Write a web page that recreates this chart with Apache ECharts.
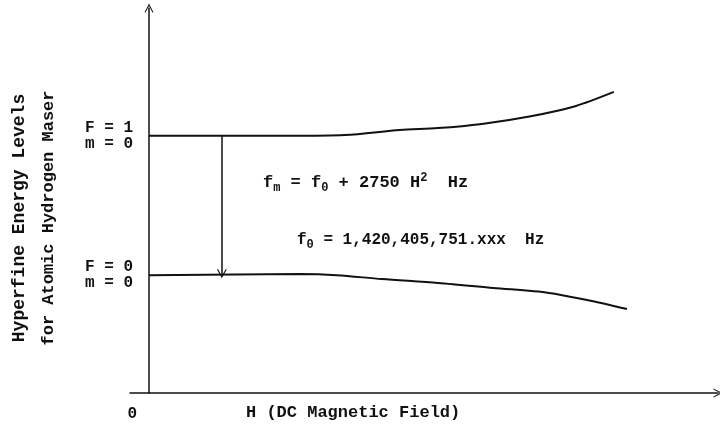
<!DOCTYPE html>
<html>
<head>
<meta charset="utf-8">
<script src="https://cdn.jsdelivr.net/npm/echarts@6/dist/echarts.min.js"></script>
<style>
html, body { margin: 0; padding: 0; background: #fff; }
#main { width: 720px; height: 432px; }
</style>
</head>
<body>
<div id="main"></div>
<script>
// values (arbitrary units: H along x, energy along y)
var upperH = [0, 1.28, 2.48, 3.44, 4.41, 5.08, 5.85, 6.71, 7.49, 8.17];
var upperE = [6.68, 6.68, 6.68, 6.70, 6.83, 6.88, 6.99, 7.19, 7.45, 7.82];
var lowerH = [0, 2.65, 3.30, 4.09, 5.08, 6.05, 7.03, 7.68, 8.40];
var lowerE = [3.06, 3.09, 3.06, 2.96, 2.86, 2.73, 2.60, 2.42, 2.18];
var transition = [[1.28, 6.68], [1.28, 3.10]];
var levelLabels = ['F = 1\nm = 0', 'F = 0\nm = 0'];

var FONT = 'Liberation Mono';
var INK = '#111';
// open chevron, pointing up
var chevron = 'path://M0,10 L5,0 L10,10 L8.8,10 L5,2.6 L1.2,10 Z';

function pairs(xs, ys) {
    return xs.map(function(x, i) { return [x, ys[i]]; });
}

var chart = echarts.init(document.getElementById('main'));

var option = {
    backgroundColor: '#fff',
    animation: false,
    grid: { left: 130, right: 2, top: 8, bottom: 39 },
    xAxis: {
        type: 'value',
        min: -0.334,
        max: 10,
        splitLine: { show: false },
        axisTick: { show: false },
        axisLine: {
            show: true,
            symbol: ['none', chevron],
            symbolSize: [11, 9],
            lineStyle: { color: INK, width: 1.5 }
        },
        axisLabel: {
            customValues: [0],
            formatter: function() { return '0'; },
            align: 'right',
            padding: [0, 12, 0, 0],
            margin: 13,
            color: INK,
            fontFamily: FONT,
            fontWeight: 'bold',
            fontSize: 16
        }
    },
    yAxis: {
        type: 'value',
        min: 0,
        max: 10,
        splitLine: { show: false },
        axisTick: { show: false },
        axisLine: {
            show: true,
            onZero: true,
            symbol: ['none', chevron],
            symbolSize: [11, 9],
            lineStyle: { color: INK, width: 1.5 }
        },
        axisLabel: {
            customValues: [upperE[0], lowerE[0]],
            formatter: function(v) { return v === upperE[0] ? levelLabels[0] : levelLabels[1]; },
            margin: -3,
            lineHeight: 16,
            padding: [0, 0, 4, 0],
            color: INK,
            fontFamily: FONT,
            fontWeight: 'bold',
            fontSize: 16
        }
    },
    series: [
        {
            name: 'upper',
            type: 'line',
            data: pairs(upperH, upperE),
            symbol: 'none',
            smooth: 0.3,
            lineStyle: { color: INK, width: 2 },
            markLine: {
                silent: true,
                symbol: ['none', chevron],
                symbolSize: [10, 9],
                label: { show: false },
                lineStyle: { color: INK, width: 1.5, type: 'solid' },
                data: [[{ coord: transition[0] }, { coord: transition[1] }]]
            }
        },
        {
            name: 'lower',
            type: 'line',
            data: pairs(lowerH, lowerE),
            symbol: 'none',
            smooth: 0.3,
            lineStyle: { color: INK, width: 2 }
        }
    ],
    graphic: [
        {
            type: 'text',
            x: 263, y: 183,
            style: {
                text: 'f{s|m} = f{s|0} + 2750 H{p|2}  Hz',
                fill: INK, font: 'bold 17px "Liberation Mono"',
                verticalAlign: 'middle',
                rich: {
                    s: { fontSize: 12, fontWeight: 'bold', fontFamily: FONT, padding: [10, 0, 0, 0] },
                    p: { fontSize: 12, fontWeight: 'bold', fontFamily: FONT, padding: [0, 0, 10, 0] }
                }
            }
        },
        {
            type: 'text',
            x: 297, y: 240,
            style: {
                text: 'f{s|0} = 1,420,405,751.xxx  Hz',
                fill: INK, font: 'bold 16px "Liberation Mono"',
                verticalAlign: 'middle',
                rich: {
                    s: { fontSize: 12, fontWeight: 'bold', fontFamily: FONT, padding: [10, 0, 0, 0] }
                }
            }
        },
        {
            type: 'text',
            x: 246, y: 413,
            style: {
                text: 'H (DC Magnetic Field)',
                fill: INK, font: 'bold 17px "Liberation Mono"',
                verticalAlign: 'middle'
            }
        },
        {
            type: 'text',
            x: 19, y: 218, rotation: Math.PI / 2,
            style: {
                text: 'Hyperfine Energy Levels',
                fill: INK, font: 'bold 18px "Liberation Mono"',
                align: 'center', verticalAlign: 'middle'
            }
        },
        {
            type: 'text',
            x: 49, y: 218, rotation: Math.PI / 2,
            style: {
                text: 'for Atomic Hydrogen Maser',
                fill: INK, font: 'bold 17px "Liberation Mono"',
                align: 'center', verticalAlign: 'middle'
            }
        }
    ]
};

chart.setOption(option);
</script>
</body>
</html>
